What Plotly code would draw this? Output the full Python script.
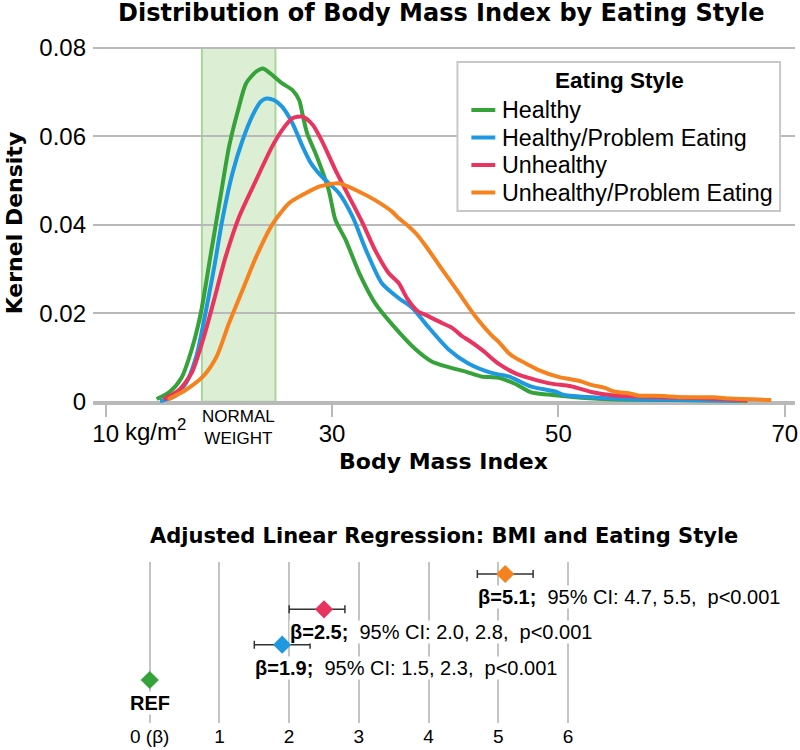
import plotly.graph_objects as go

# ---- density curves ----
series_names = ["Healthy", "Healthy/Problem Eating", "Unhealthy", "Unhealthy/Problem Eating"]
series_colors = ["#35a23a", "#1e98e0", "#e8345f", "#f5821f"]

healthy_bmi = [14.5, 15.7, 16.7, 17.6, 18.4, 19.3, 20.1, 20.9, 21.7, 22.4, 23.3, 23.9, 24.9, 25.6,
               26.5, 27.1, 27.4, 27.8, 28.6, 29.7, 30.3, 31.2, 32.4, 33.8, 35.3, 37.4, 38.8, 40.3,
               41.8, 43.2, 44.7, 46.2, 47.6, 49.1, 52.0, 54.9, 58.0, 62.0, 66.7]
healthy_den = [0.0006, 0.0023, 0.0054, 0.0118, 0.0200, 0.0336, 0.0457, 0.0577, 0.0660, 0.0720,
               0.0747, 0.0754, 0.0735, 0.0720, 0.0705, 0.0682, 0.0649, 0.0607, 0.0558, 0.0479,
               0.0411, 0.0366, 0.0291, 0.0223, 0.0175, 0.0118, 0.0091, 0.0078, 0.0068, 0.0057,
               0.0054, 0.0040, 0.0021, 0.0016, 0.0009, 0.0005, 0.0004, 0.0003, 0.0002]

hpe_bmi = [14.8, 16.1, 17.1, 18.0, 18.7, 19.6, 20.3, 21.2, 22.1, 23.0, 23.7, 24.2, 24.9, 25.6,
           26.5, 27.4, 28.1, 29.1, 30.6, 31.8, 33.0, 34.4, 35.9, 37.1, 38.4, 40.3, 42.0, 44.1,
           45.6, 47.6, 49.7, 50.5, 53.5, 57.0, 61.0, 66.0]
hpe_den = [0.0001, 0.0012, 0.0042, 0.0102, 0.0185, 0.0306, 0.0411, 0.0517, 0.0592, 0.0649,
           0.0679, 0.0686, 0.0682, 0.0667, 0.0630, 0.0577, 0.0541, 0.0509, 0.0472, 0.0419,
           0.0343, 0.0268, 0.0234, 0.0212, 0.0172, 0.0118, 0.0087, 0.0065, 0.0057, 0.0034,
           0.0023, 0.0015, 0.0009, 0.0005, 0.0004, 0.0002]

unh_bmi = [15.1, 16.5, 17.6, 18.6, 19.5, 20.6, 21.8, 23.3, 24.7, 25.6, 26.5, 27.4, 28.3, 29.1,
           30.3, 31.5, 32.7, 33.8, 35.0, 35.9, 36.6, 37.6, 38.2, 39.7, 40.6, 41.5, 42.0, 43.3,
           44.7, 46.3, 49.1, 51.1, 52.9, 54.9, 57.9, 62.3, 66.7]
unh_den = [0.0005, 0.0027, 0.0065, 0.0140, 0.0223, 0.0328, 0.0419, 0.0502, 0.0577, 0.0615,
           0.0641, 0.0645, 0.0626, 0.0590, 0.0524, 0.0464, 0.0404, 0.0343, 0.0291, 0.0268,
           0.0235, 0.0204, 0.0197, 0.0178, 0.0167, 0.0148, 0.0140, 0.0116, 0.0086, 0.0063,
           0.0042, 0.0035, 0.0022, 0.0014, 0.0011, 0.0008, 0.0003]

upe_bmi = [15.5, 17.1, 18.6, 19.8, 20.9, 22.1, 23.3, 24.7, 26.2, 27.7, 28.9, 29.4, 30.6, 32.4,
           33.8, 35.3, 35.9, 36.8, 37.4, 38.2, 39.7, 41.2, 42.6, 44.1, 44.7, 45.6, 46.2, 47.6,
           48.2, 50.0, 52.0, 52.9, 54.1, 54.9, 56.4, 57.0, 59.3, 60.8, 63.7, 65.2, 68.8]
upe_den = [0.0005, 0.0027, 0.0057, 0.0102, 0.0178, 0.0253, 0.0328, 0.0400, 0.0449, 0.0472,
           0.0487, 0.0490, 0.0494, 0.0475, 0.0456, 0.0430, 0.0415, 0.0396, 0.0381, 0.0355,
           0.0300, 0.0246, 0.0195, 0.0150, 0.0136, 0.0110, 0.0099, 0.0080, 0.0072, 0.0056,
           0.0046, 0.0038, 0.0031, 0.0023, 0.0018, 0.0014, 0.0013, 0.0010, 0.0010, 0.0007,
           0.0004]

curve_bmi = [healthy_bmi, hpe_bmi, unh_bmi, upe_bmi]
curve_den = [healthy_den, hpe_den, unh_den, upe_den]

normal_weight = [18.5, 25]
bmi_ticks = [10, 30, 50, 70]
bmi_ticktext = ["10", "30", "50", "70"]
den_ticks = [0, 0.02, 0.04, 0.06, 0.08]
den_ticktext = ["0", "0.02", "0.04", "0.06", "0.08"]

# ---- regression (forest) ----
beta = [0, 1.9, 2.5, 5.1]
ci_lo = [None, 1.5, 2.0, 4.7]
ci_hi = [None, 2.3, 2.8, 5.5]
p_text = [None, "p<0.001", "p<0.001", "p<0.001"]
row_pos = [1, 2, 3, 4]
beta_ticks = [0, 1, 2, 3, 4, 5, 6]
beta_ticktext = ["0 (β)", "1", "2", "3", "4", "5", "6"]

FONT = "Arial, Liberation Sans, sans-serif"
TITLE_FONT = "DejaVu Sans, Arial, sans-serif"
GRID = "#b9b9b9"

# plot area is 93..798 px wide, 45..723 px tall
def px(x):
    return (x - 93) / 705.0

def py(y):
    return (723 - y) / 678.0

fig = go.Figure()

for name, col, xs, ys in zip(series_names, series_colors, curve_bmi, curve_den):
    fig.add_trace(go.Scatter(x=xs, y=ys, name=name, mode="lines", showlegend=False,
                             line=dict(color=col, width=4, shape="spline", smoothing=0.7),
                             xaxis="x", yaxis="y"))

for i in range(len(beta)):
    err = None
    if ci_lo[i] is not None:
        err = dict(type="data", symmetric=False,
                   array=[ci_hi[i] - beta[i]], arrayminus=[beta[i] - ci_lo[i]],
                   color="#333333", thickness=1.5, width=4)
    fig.add_trace(go.Scatter(x=[beta[i]], y=[row_pos[i]], mode="markers",
                             marker=dict(symbol="diamond", size=14, color=series_colors[i]),
                             error_x=err, showlegend=False, xaxis="x2", yaxis="y2"))

# normal weight band
fig.add_shape(type="rect", xref="x", yref="y", x0=normal_weight[0], x1=normal_weight[1],
              y0=0, y1=0.08, fillcolor="#dcefd4", line=dict(color="#a9d59a", width=2),
              layer="below")

ann = []
ann.append(dict(text="<b>Distribution of Body Mass Index by Eating Style</b>", xref="paper", yref="paper",
                x=px(442.5), y=py(13), xanchor="center", yanchor="middle", showarrow=False,
                font=dict(family=TITLE_FONT, size=24)))
ann.append(dict(text="<b>Kernel Density</b>", xref="paper", yref="paper", x=px(14), y=py(223),
                xanchor="center", yanchor="middle", textangle=-90, showarrow=False,
                font=dict(family=TITLE_FONT, size=22)))
ann.append(dict(text="<b>Body Mass Index</b>", xref="paper", yref="paper", x=px(445), y=py(462),
                xanchor="center", yanchor="middle", showarrow=False,
                font=dict(family=TITLE_FONT, size=22)))
ann.append(dict(text="<b>Adjusted Linear Regression: BMI and Eating Style</b>", xref="paper",
                yref="paper", x=px(445), y=py(536), xanchor="center", yanchor="middle",
                showarrow=False, font=dict(family=TITLE_FONT, size=21)))
ann.append(dict(text="NORMAL<br>WEIGHT", xref="x", yref="paper", x=sum(normal_weight) / 2,
                y=py(427), xanchor="center", yanchor="middle", showarrow=False,
                font=dict(size=17)))
ann.append(dict(text="kg/m<sup>2</sup>", xref="x", yref="paper", x=11.5, xanchor="left",
                y=py(430), yanchor="middle", showarrow=False, font=dict(size=24)))

# legend drawn by hand so its spacing follows the reference
fig.add_shape(type="rect", xref="paper", yref="paper", x0=px(459), x1=px(783),
              y0=py(211), y1=py(62), fillcolor="white",
              line=dict(color="#c8c8c8", width=2), layer="above")
ann.append(dict(text="<b>Eating Style</b>", xref="paper", yref="paper", x=px(622), y=py(81),
                xanchor="center", yanchor="middle", showarrow=False, font=dict(size=22.5)))
for k, (name, col) in enumerate(zip(series_names, series_colors)):
    yk = 110 + 27.5 * k
    fig.add_shape(type="line", xref="paper", yref="paper", x0=px(473), x1=px(497),
                  y0=py(yk), y1=py(yk), line=dict(color=col, width=4), layer="above")
    ann.append(dict(text=name, xref="paper", yref="paper", x=px(502), y=py(yk),
                    xanchor="left", yanchor="middle", showarrow=False, font=dict(size=23.3)))

# forest labels
for i in range(len(beta)):
    if ci_lo[i] is None:
        ann.append(dict(text="<b>REF</b>", xref="x2", yref="y2", x=beta[i], y=row_pos[i],
                        xanchor="center", yanchor="middle", yshift=-23, showarrow=False,
                        bgcolor="white", borderpad=0, font=dict(size=20)))
    else:
        txt = ("<b>β=%.1f;</b>&nbsp;&nbsp;95%% CI: %.1f, %.1f,&nbsp;&nbsp;%s"
               % (beta[i], ci_lo[i], ci_hi[i], p_text[i].replace("<", "&lt;")))
        ann.append(dict(text=txt, xref="x2", yref="y2", x=ci_lo[i], xanchor="left",
                        y=row_pos[i], yanchor="middle", yshift=-23, showarrow=False,
                        bgcolor="white", borderpad=0, font=dict(size=20)))

fig.update_layout(
    width=800, height=750,
    margin=dict(l=93, r=2, t=45, b=27),
    paper_bgcolor="white", plot_bgcolor="white",
    font=dict(family=FONT, color="black"),
    xaxis=dict(domain=[0, 1], range=[8.88, 70.9], anchor="y",
               tickvals=bmi_ticks, ticktext=bmi_ticktext, tickfont=dict(size=24),
               ticklabeloverflow="allow", ticklabelstandoff=-4,
               showgrid=False, zeroline=False, showline=True, linecolor=GRID, linewidth=2,
               ticks="outside", ticklen=12, tickwidth=2, tickcolor=GRID),
    yaxis=dict(domain=[0.472, 1.0], range=[-0.0003, 0.0807], anchor="x",
               tickvals=den_ticks, ticktext=den_ticktext, tickfont=dict(size=24),
               showgrid=True, gridcolor=GRID, gridwidth=2, zeroline=False, showline=False,
               ticks="", ticklabelstandoff=6),
    xaxis2=dict(domain=[0, 1], range=[-0.814, 9.257], anchor="y2",
                tickvals=beta_ticks, ticktext=beta_ticktext, tickfont=dict(size=19),
                ticklabeloverflow="allow",
                showgrid=True, gridcolor="#c4c4c4", gridwidth=2, zeroline=False,
                showline=False, ticks=""),
    yaxis2=dict(domain=[0, 0.2375], range=[-0.217, 4.34], anchor="x2", visible=False),
    annotations=ann,
    showlegend=False,
)

# drop the page's default 8px body margin so the figure sits at the corner
fig.write_html("out.html", config={"displayModeBar": False},
               post_script="document.body.style.margin='0';")
